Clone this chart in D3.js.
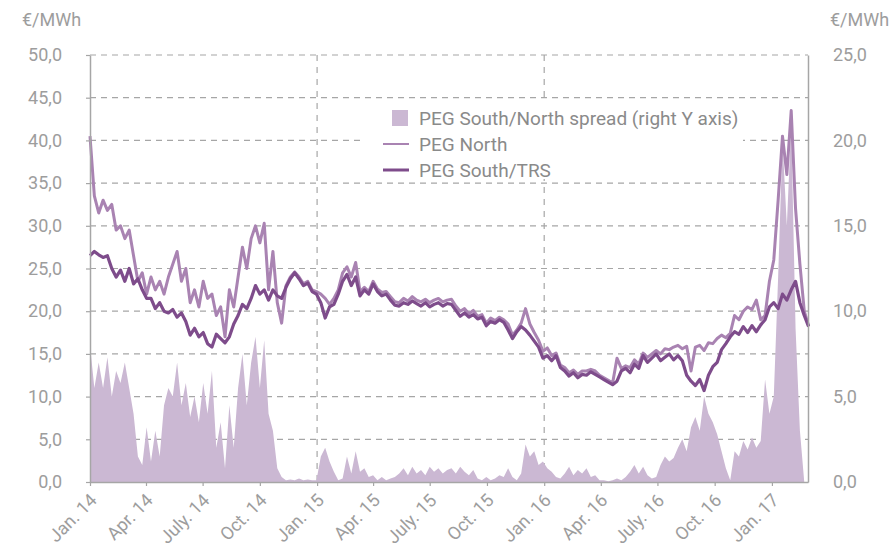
<!DOCTYPE html>
<html>
<head>
<meta charset="utf-8">
<script src="https://cdn.jsdelivr.net/npm/d3@7"></script>
<style>
  body { margin: 0; background: #fff; }
  text { font-family: Roboto, sans-serif; }
</style>
</head>
<body>
<div id="chart"></div>
<script>
  // weekly samples from 1 Jan 2014
  const startDate = new Date(2014, 0, 1);

  const pegNorth = [
    40.5, 33.5, 31.5, 33, 31.8, 32.5, 29.5, 30, 28.5, 29.5,
    26.5, 23.5, 24.5, 22, 24, 22.5, 23.5, 22, 24, 25.5,
    27, 23.5, 25, 21, 22.5, 20.5, 23.5, 21.5, 22, 19.5,
    20.5, 17, 22.5, 20.5, 24, 27.5, 25, 28.5, 30, 28,
    30.3, 22.5, 27, 21, 18.6, 23, 24, 24.6, 24, 23.2,
    23.5, 22.5, 22.3, 22, 21.5, 20.8, 21.5, 22.5, 24.5, 25.2,
    24, 25.7, 22.3, 22.8, 22.3, 23.5, 22.6, 22.2, 22.3, 21.7,
    21.1, 21, 21.5, 21.2, 21.7, 21.3, 21.1, 21.4, 21, 21.3,
    21.5, 21.1, 21.3, 21.4, 20.6, 20, 20.3, 19.7, 20.1, 19.4,
    19.6, 18.6, 19.2, 18.9, 19.3, 19, 18.5, 17.2, 17.8, 18.6,
    20.3, 18.5, 17.5, 16.6, 15.3, 15.7, 14.8, 15.1, 13.7, 13.4,
    12.8, 13.1, 12.6, 13, 13, 13.2, 13, 12.5, 12.2, 11.9,
    11.6, 14.5, 13.3, 13.6, 13.4, 14.3, 13.8, 15.1, 14.6, 15,
    15.4, 15, 15.6, 15.5, 15.8, 16, 15.6, 15.9, 13, 15.8,
    16, 15.4, 16.3, 16.2, 16.8, 17.2, 16.9, 17.4, 19.5, 19,
    20, 20.5, 20.2, 21.3, 19, 19.5, 23.5, 26, 33, 40.5,
    36, 43.5, 32, 25.5, 20, 18.3
  ];

  const pegSouth = [
    26.5, 27, 26.6, 26.3, 26.5, 25, 24, 24.8, 23.5, 25,
    23.2, 23.8, 22.5, 21.5, 21.5, 20.3, 21, 20, 19.8, 20.2,
    19.3, 19.8, 18.8, 17.2, 18, 17, 17.5, 16.2, 15.8, 17.3,
    16.8, 16.3, 17, 18.5, 19.5, 20.8, 20.3, 21.5, 23, 22,
    22.5, 21.3, 22.5, 21.8, 21.5, 22.8, 23.8, 24.5, 23.8, 23,
    23.3, 22.3, 22, 21, 19.2, 20.5, 20.8, 22, 23.5, 24.3,
    23, 24, 21.8, 22.5, 22, 23.2, 22.3, 21.8, 22, 21.3,
    20.7, 20.6, 21, 20.8, 21.2, 20.9, 20.6, 21, 20.5, 20.8,
    21, 20.6, 20.9, 20.8, 20.1, 19.4, 19.8, 19.3, 19.6, 19.1,
    19.3, 18.3, 18.8, 18.6, 19, 18.7, 17.8, 16.8, 17.6, 18.2,
    17.8, 17.2, 16.5, 15.8, 14.5, 14.8, 14.2, 14.8, 13.4, 13,
    12.4, 12.8, 12.2, 12.6, 12.5, 12.9, 12.6, 12.3, 12, 11.7,
    11.4, 11.8, 13, 13.3, 12.8, 13.8, 13.3, 14.8, 14, 14.5,
    15, 14.2, 14.6, 15, 14.3, 14.8, 14.2, 12.5, 11.8, 11.3,
    12, 10.7, 12.5, 13.5, 14, 15.5, 16.2, 17, 17.6, 17.3,
    18.2, 17.5, 18.3, 17.6, 18.4, 19, 20.5, 21, 20.3, 22,
    21.3, 22.5, 23.5, 21, 19.5, 18.2
  ];

  const spreadSN = [
    8, 5.5, 7, 5.5, 7.3, 5, 6.5, 5.8, 7, 5.5,
    4, 1.5, 1, 3.2, 1.2, 3, 1.5, 4.5, 5.5, 5,
    7, 4.5, 5.8, 3.8, 5, 3.5, 5.8, 4, 6.5, 2,
    3.5, 0.8, 4.5, 2, 5.5, 7.5, 4.5, 7, 8.5, 5.5,
    8.3, 4, 3, 0.8, 0.3, 0.1, 0.15, 0.1, 0.2, 0.1,
    0.15, 0.1, 0.1, 1.5, 2, 1.2, 0.6, 0.1, 0.2, 1.5,
    0.5, 1.8, 0.6, 0.8, 0.3, 0.4, 0.1, 0.3, 0.1, 0.2,
    0.3, 0.5, 0.8, 0.4, 0.9, 0.5, 0.7, 0.4, 0.9, 0.6,
    0.8, 0.5, 0.7, 0.8, 0.5, 0.9, 0.6, 0.4, 0.7, 0.2,
    0.1, 0.3, 0.1, 0.2, 0.4, 0.3, 0.8, 0.3, 0.1, 0.5,
    2.2, 1.5, 1.8, 1, 1.2, 0.8, 0.6, 0.3, 0.2, 0.5,
    0.9, 0.4, 0.7, 0.5, 0.8, 0.3, 0.4, 0.1, 0.1, 0.05,
    0.1, 0.2, 0.1, 0.3, 0.6, 1, 0.5, 0.9, 0.4, 0.2,
    0.3, 1, 1.5, 1.2, 1.4, 2, 2.5, 1.8, 3.2, 3.8,
    3, 5, 4, 3.5, 2.8, 1.8, 0.8, 0.1, 1.8, 1.5,
    2.4, 1.9, 2.6, 2, 2.4, 6, 4, 5, 12, 20,
    15, 21, 9, 3, 0, 0
  ];

  const tickDates = [
    "2014-01-01", "2014-04-01", "2014-07-01", "2014-10-01",
    "2015-01-01", "2015-04-01", "2015-07-01", "2015-10-01",
    "2016-01-01", "2016-04-01", "2016-07-01", "2016-10-01",
    "2017-01-01"
  ];
  const tickLabels = [
    "Jan. 14", "Apr. 14", "July. 14", "Oct. 14",
    "Jan. 15", "Apr. 15", "July. 15", "Oct. 15",
    "Jan. 16", "Apr. 16", "July. 16", "Oct. 16",
    "Jan. 17"
  ];
  const yearLines = ["2015-01-01", "2016-01-01"];
  const leftTicks = [0, 5, 10, 15, 20, 25, 30, 35, 40, 45, 50];
  const rightTicks = [0, 5, 10, 15, 20, 25];

  const legendItems = [
    { label: "PEG South/North spread (right Y axis)", type: "area" },
    { label: "PEG North", type: "north" },
    { label: "PEG South/TRS", type: "south" }
  ];

  const colors = { area: "#cbb8d3", north: "#a983b2", south: "#7e4c8b" };
  const grey = "#a6a6a6";
  const textGrey = "#9d9d9d";

  const width = 893;
  const height = 547;
  const plot = { left: 90, right: 808, top: 55, bottom: 482 };

  const dates = pegNorth.map((_, i) => d3.timeDay.offset(startDate, 7 * i));
  const fmt = d3.formatLocale({ decimal: ",", thousands: ".", grouping: [3], currency: ["", "€"] }).format(".1f");

  const x = d3.scaleTime()
    .domain([new Date(2014, 0, 1), new Date(2017, 1, 28)])
    .range([plot.left, plot.right]);
  const yLeft = d3.scaleLinear().domain([0, 50]).range([plot.bottom, plot.top]);
  const yRight = d3.scaleLinear().domain([0, 25]).range([plot.bottom, plot.top]);

  const svg = d3.select("#chart")
    .append("svg")
    .attr("width", width)
    .attr("height", height);

  // grid
  svg.append("g")
    .selectAll("line")
    .data(leftTicks.filter((d) => d > 0))
    .join("line")
    .attr("x1", plot.left)
    .attr("x2", plot.right)
    .attr("y1", (d) => yLeft(d))
    .attr("y2", (d) => yLeft(d))
    .attr("stroke", grey)
    .attr("stroke-width", 1.2)
    .attr("stroke-dasharray", "6,5");

  svg.append("g")
    .selectAll("line")
    .data(yearLines)
    .join("line")
    .attr("x1", (d) => x(new Date(d + "T00:00")))
    .attr("x2", (d) => x(new Date(d + "T00:00")))
    .attr("y1", plot.top)
    .attr("y2", plot.bottom)
    .attr("stroke", grey)
    .attr("stroke-width", 1.2)
    .attr("stroke-dasharray", "6,6");

  // legend background hides the grid behind it
  const legend = svg.append("g").attr("transform", "translate(360, 100)");
  legend.append("rect")
    .attr("width", 383)
    .attr("height", 79)
    .attr("fill", "#fff");

  // spread area (right axis)
  svg.append("path")
    .datum(spreadSN)
    .attr("fill", colors.area)
    .attr("d", d3.area()
      .x((d, i) => x(dates[i]))
      .y0(yRight(0))
      .y1((d) => yRight(d)));

  const line = d3.line()
    .x((d, i) => x(dates[i]))
    .y((d) => yLeft(d));

  svg.append("path")
    .datum(pegNorth)
    .attr("fill", "none")
    .attr("stroke", colors.north)
    .attr("stroke-width", 3)
    .attr("stroke-linejoin", "round")
    .attr("d", line);

  svg.append("path")
    .datum(pegSouth)
    .attr("fill", "none")
    .attr("stroke", colors.south)
    .attr("stroke-width", 3.2)
    .attr("stroke-linejoin", "round")
    .attr("d", line);

  // axes
  const styleAxis = (g) => {
    g.select(".domain").attr("stroke", grey).attr("stroke-width", 1.5);
    g.selectAll(".tick line").attr("stroke", grey).attr("stroke-width", 1.2);
    g.selectAll("text").attr("fill", textGrey).style("font-size", "18px").style("font-family", "Roboto, sans-serif");
  };

  svg.append("g")
    .attr("transform", `translate(${plot.left}, 0)`)
    .call(d3.axisLeft(yLeft).tickValues(leftTicks).tickFormat(fmt).tickSize(4).tickSizeOuter(0).tickPadding(24))
    .call(styleAxis);

  svg.append("g")
    .attr("transform", `translate(${plot.right}, 0)`)
    .call(d3.axisRight(yRight).tickValues(rightTicks).tickFormat(fmt).tickSize(0).tickSizeOuter(0).tickPadding(25))
    .call(styleAxis);

  const xAxis = svg.append("g")
    .attr("transform", `translate(0, ${plot.bottom})`)
    .call(d3.axisBottom(x)
      .tickValues(tickDates.map((d) => new Date(d + "T00:00")))
      .tickFormat((d, i) => tickLabels[i])
      .tickSize(4)
      .tickSizeOuter(0))
    .call(styleAxis);

  xAxis.selectAll("text")
    .attr("x", 0)
    .attr("y", 0)
    .attr("dy", "0.35em")
    .attr("text-anchor", "end")
    .attr("transform", "translate(3, 15) rotate(-45)");

  // unit labels
  svg.append("text")
    .attr("x", 22)
    .attr("y", 26)
    .attr("fill", textGrey)
    .style("font-size", "18px")
    .text("€/MWh");

  svg.append("text")
    .attr("x", 830)
    .attr("y", 26)
    .attr("fill", textGrey)
    .style("font-size", "18px")
    .text("€/MWh");

  // legend
  const rows = legend.selectAll("g.item")
    .data(legendItems)
    .join("g")
    .attr("class", "item")
    .attr("transform", (d, i) => `translate(0, ${18 + i * 26})`);

  rows.filter((d) => d.type === "area")
    .append("rect")
    .attr("x", 32)
    .attr("y", -8)
    .attr("width", 16)
    .attr("height", 16)
    .attr("fill", colors.area);

  rows.filter((d) => d.type !== "area")
    .append("line")
    .attr("x1", 23)
    .attr("x2", 49)
    .attr("stroke", (d) => colors[d.type])
    .attr("stroke-width", (d) => (d.type === "south" ? 3 : 2));

  rows.append("text")
    .attr("x", 59)
    .attr("dy", "0.35em")
    .attr("fill", "#8a8a8a")
    .style("font-size", "19px")
    .text((d) => d.label);
</script>
</body>
</html>
